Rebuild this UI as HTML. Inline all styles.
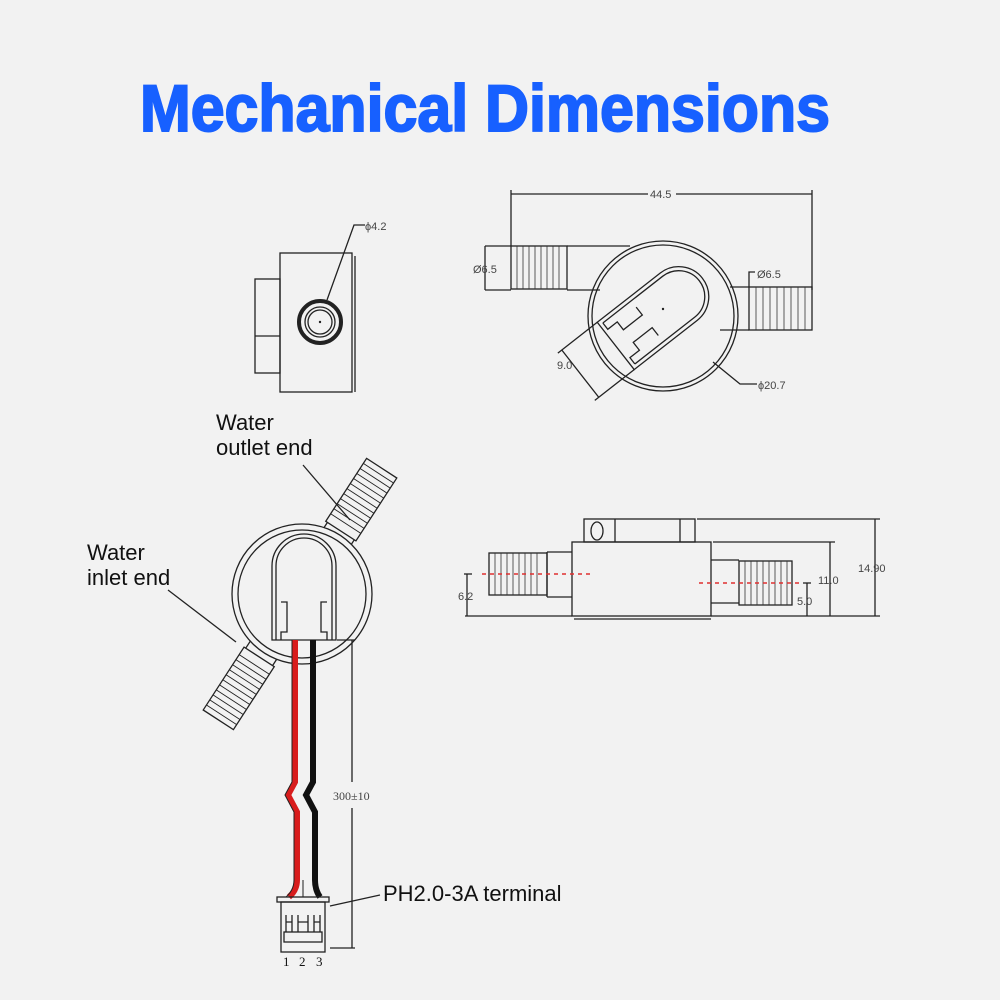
<!DOCTYPE html>
<html><head><meta charset="utf-8"><style>
html,body{margin:0;padding:0;background:#f2f2f2;}
svg{display:block;}
.l{fill:none;stroke:#222;stroke-width:1.3}
.t{font-family:"Liberation Sans",sans-serif;fill:#111}
.d{font-family:"Liberation Sans",sans-serif;fill:#444;font-size:11px}
</style></head><body>
<svg width="1000" height="1000" viewBox="0 0 1000 1000" xmlns="http://www.w3.org/2000/svg">
<rect width="1000" height="1000" fill="#f2f2f2"/>
<text x="140" y="131" textLength="690" lengthAdjust="spacingAndGlyphs" style="font-family:'Liberation Sans',sans-serif;font-weight:bold;font-size:66px;fill:#1760ff;stroke:#1760ff;stroke-width:2">Mechanical Dimensions</text>

<!-- top-left view -->
<g class="l">
<rect x="280" y="253" width="72" height="139"/>
<line x1="355" y1="256" x2="355" y2="392"/>
<rect x="255" y="279" width="25" height="94"/>
<line x1="255" y1="336" x2="280" y2="336"/>
<circle cx="320" cy="322" r="21" stroke-width="4"/>
<circle cx="320" cy="322" r="15"/>
<circle cx="320" cy="322" r="12"/>
<polyline points="327,300 354,225 365,225"/>
</g>
<circle cx="320" cy="322" r="1.2" fill="#222"/>
<text class="d" x="365" y="230">ϕ4.2</text>

<!-- top-right view -->
<g class="l">
<line x1="511" y1="194" x2="648" y2="194"/><line x1="676" y1="194" x2="812" y2="194"/>
<line x1="511" y1="190" x2="511" y2="246"/><line x1="812" y1="190" x2="812" y2="290"/>
<rect x="511" y="246" width="56" height="43"/>
<line x1="567" y1="246" x2="630" y2="246"/><line x1="567" y1="290" x2="600" y2="290"/>
<line x1="485" y1="246" x2="511" y2="246"/><line x1="485" y1="290" x2="511" y2="290"/>
<line x1="485" y1="246" x2="485" y2="290"/>
<rect x="749" y="287" width="63" height="43"/>
<line x1="730" y1="287" x2="749" y2="287"/><line x1="720" y1="330" x2="749" y2="330"/>
<polyline points="749,287 749,272 755,272"/>
<circle cx="663" cy="316" r="75"/>
<circle cx="663" cy="316" r="71"/>
<g transform="translate(663,309) rotate(-38)">
<path d="M-60,-30 L20,-30 A30,30 0 0 1 20,30 L-60,30 Z"/>
<path d="M-56,-26 L20,-26 A26,26 0 0 1 20,26 L-56,26"/>
<path d="M-56,-26 L-56,-18 L-44,-18 L-44,-8 L-20,-8 L-20,-18 M-56,26 L-56,18 L-44,18 L-44,8 L-20,8 L-20,18"/>
<line x1="-60" y1="-30" x2="-110" y2="-30"/><line x1="-60" y1="30" x2="-110" y2="30"/>
<line x1="-105" y1="-30" x2="-105" y2="30"/>
</g>
<polyline points="713,362 740,384 757,384"/>
</g>
<g stroke="#333" stroke-width="0.8">
<path d="M517,246v43M523,246v43M529,246v43M535,246v43M541,246v43M547,246v43M553,246v43M559,246v43"/>
<path d="M756,287v43M763,287v43M770,287v43M777,287v43M784,287v43M791,287v43M798,287v43M805,287v43"/>
</g>
<circle cx="663" cy="309" r="1.2" fill="#222"/>
<text class="d" x="473" y="273">Ø6.5</text>
<text class="d" x="757" y="278">Ø6.5</text>
<text class="d" x="557" y="369">9.0</text>
<text class="d" x="758" y="389">ϕ20.7</text>
<text class="d" x="650" y="198">44.5</text>

<!-- bottom-left view -->
<g transform="translate(300,594) rotate(-57)" class="l">
<rect x="-150" y="-18" width="75" height="36" fill="#f2f2f2"/>
<rect x="75" y="-18" width="75" height="36" fill="#f2f2f2"/>
<line x1="-75" y1="-16" x2="-60" y2="-16"/><line x1="-75" y1="16" x2="-60" y2="16"/>
<line x1="75" y1="-16" x2="60" y2="-16"/><line x1="75" y1="16" x2="60" y2="16"/>
<path stroke-width="0.9" d="M-144,-18v36M-138,-18v36M-132,-18v36M-126,-18v36M-120,-18v36M-114,-18v36M-108,-18v36M-102,-18v36M-96,-18v36M-90,-18v36M-84,-18v36M84,-18v36M90,-18v36M96,-18v36M102,-18v36M108,-18v36M114,-18v36M120,-18v36M126,-18v36M132,-18v36M138,-18v36M144,-18v36"/>
</g>
<g class="l">
<circle cx="302" cy="594" r="70" fill="#f2f2f2"/>
<circle cx="302" cy="594" r="64"/>
<path d="M272,640 V566 A32,32 0 0 1 336,566 V640 Z" fill="#f2f2f2"/>
<path d="M276,640 V566 A28,28 0 0 1 332,566 V640"/>
<path d="M281,640 V632 L287,632 V602 L281,602 M327,640 V632 L321,632 V602 L327,602"/>
<line x1="303" y1="465" x2="350" y2="520"/>
<line x1="168" y1="590" x2="236" y2="642"/>
<line x1="337" y1="640" x2="355" y2="640"/>
<line x1="352" y1="640" x2="352" y2="782"/><line x1="352" y1="808" x2="352" y2="948"/>
<line x1="330" y1="948" x2="355" y2="948"/>
<line x1="330" y1="906" x2="380" y2="895"/>
</g>
<path d="M295,640 V782 L288,795 L297,812 V880 Q297,890 289,897" stroke="#d81c1c" stroke-width="6" fill="none"/>
<path d="M295,640 V782 L288,795 L297,812 V880 Q297,890 289,897" stroke="#222" stroke-width="1" fill="none" transform="translate(-3,0)"/>
<path d="M313,640 V782 L306,795 L315,812 V880 Q315,890 320,897" stroke="#111" stroke-width="6" fill="none"/>
<path d="M303,880 V897" stroke="#888" stroke-width="2"/>
<g class="l">
<rect x="277" y="897" width="52" height="5"/>
<rect x="281" y="902" width="44" height="50"/>
<rect x="284" y="932" width="38" height="10"/>
<path d="M286,932 V915 M292,932 V915 M286,922 H292 M298,932 V915 M308,932 V915 M298,922 H308 M314,932 V915 M320,932 V915 M314,922 H320"/>
</g>
<text class="d" x="333" y="800" style="font-family:'Liberation Serif',serif;font-size:12px">300±10</text>
<text class="t" x="283" y="966" style="font-family:'Liberation Serif',serif;font-size:13px">1</text>
<text class="t" x="299" y="966" style="font-family:'Liberation Serif',serif;font-size:13px">2</text>
<text class="t" x="316" y="966" style="font-family:'Liberation Serif',serif;font-size:13px">3</text>
<text class="t" x="383" y="901" font-size="22">PH2.0-3A terminal</text>
<text class="t" x="216" y="430" font-size="22">Water</text>
<text class="t" x="216" y="455" font-size="22">outlet end</text>
<text class="t" x="87" y="560" font-size="22">Water</text>
<text class="t" x="87" y="585" font-size="22">inlet end</text>

<!-- bottom-right view -->
<g class="l">
<rect x="572" y="542" width="139" height="74"/>
<line x1="574" y1="619" x2="711" y2="619"/>
<rect x="584" y="519" width="111" height="23"/>
<line x1="615" y1="519" x2="615" y2="542"/><line x1="680" y1="519" x2="680" y2="542"/>
<ellipse cx="597" cy="531" rx="6" ry="9"/>
<rect x="489" y="553" width="58" height="42"/>
<line x1="547" y1="552" x2="572" y2="552"/><line x1="547" y1="597" x2="572" y2="597"/>
<line x1="547" y1="552" x2="547" y2="597"/>
<line x1="711" y1="560" x2="739" y2="560"/><line x1="711" y1="603" x2="739" y2="603"/>
<rect x="739" y="561" width="53" height="44"/>
<line x1="465" y1="616" x2="572" y2="616"/><line x1="711" y1="616" x2="880" y2="616"/>
<line x1="697" y1="519" x2="880" y2="519"/><line x1="713" y1="542" x2="835" y2="542"/>
<line x1="467" y1="574" x2="467" y2="616"/><line x1="464" y1="574" x2="472" y2="574"/>
<line x1="807" y1="583" x2="807" y2="616"/><line x1="803" y1="583" x2="811" y2="583"/>
<line x1="830" y1="542" x2="830" y2="616"/>
<line x1="875" y1="519" x2="875" y2="616"/>
</g>
<g stroke="#333" stroke-width="0.8">
<path d="M495,553v42M501,553v42M507,553v42M513,553v42M519,553v42M525,553v42M531,553v42M537,553v42"/>
<path d="M745,561v44M751,561v44M757,561v44M763,561v44M769,561v44M775,561v44M781,561v44M787,561v44"/>
</g>
<line x1="482" y1="574" x2="590" y2="574" stroke="#e03030" stroke-width="1.4" stroke-dasharray="4,4"/>
<line x1="699" y1="583" x2="800" y2="583" stroke="#e03030" stroke-width="1.4" stroke-dasharray="4,4"/>
<text class="d" x="458" y="600">6.2</text>
<text class="d" x="797" y="605">5.0</text>
<text class="d" x="818" y="584">11.0</text>
<text class="d" x="858" y="572">14.90</text>
</svg>
</body></html>
